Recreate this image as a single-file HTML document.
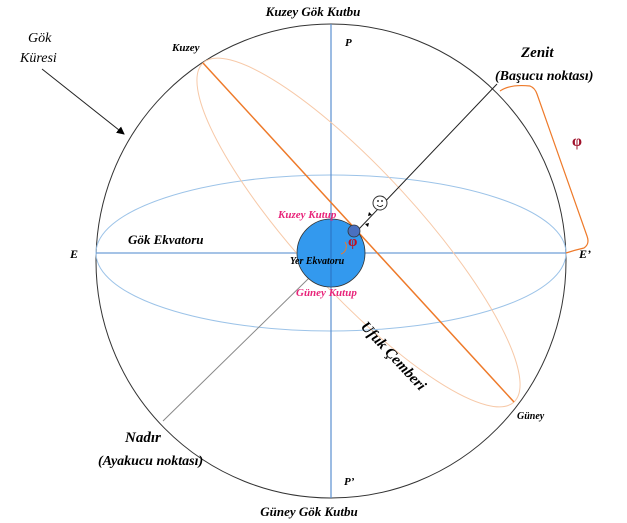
<!DOCTYPE html>
<html><head><meta charset="utf-8"><style>
html,body{margin:0;padding:0;background:#fff;}
svg{display:block;}
text{font-family:"Liberation Serif",serif;font-style:italic;font-weight:bold;}
</style></head><body>
<svg width="627" height="523" viewBox="0 0 627 523" xmlns="http://www.w3.org/2000/svg">
<defs><marker id="ah" markerWidth="8" markerHeight="8" refX="7" refY="4" orient="auto"><path d="M0,0 L8,4 L0,8 z" fill="#000"/></marker></defs>
<!-- celestial sphere -->
<ellipse cx="331" cy="261" rx="235" ry="237" fill="none" stroke="#333" stroke-width="1"/>
<!-- equator ellipse -->
<ellipse cx="331" cy="253" rx="235" ry="78" fill="none" stroke="#9cc3e8" stroke-width="1"/>
<line x1="96" y1="253" x2="566" y2="253" stroke="#6f9fd6" stroke-width="1.2"/>
<line x1="331" y1="24" x2="331" y2="498" stroke="#5a8fd0" stroke-width="1.2"/>
<!-- horizon ellipse -->
<ellipse cx="358.5" cy="232.5" rx="230" ry="60" transform="rotate(47.5 358.5 232.5)" fill="none" stroke="#f7c9a8" stroke-width="1"/>
<line x1="203" y1="63" x2="514" y2="402" stroke="#ee7a2a" stroke-width="1.5"/>
<!-- zenith-nadir line -->
<line x1="497" y1="84" x2="358" y2="230" stroke="#222" stroke-width="1"/>
<line x1="354" y1="234" x2="163" y2="421" stroke="#888" stroke-width="1"/>
<!-- earth -->
<circle cx="331" cy="253" r="34" fill="#3399ee" stroke="#333" stroke-width="0.8"/>
<line x1="331" y1="219" x2="331" y2="287" stroke="#2a6fc0" stroke-width="1"/>
<circle cx="354" cy="231" r="6" fill="#4a70c0" stroke="#333" stroke-width="0.8"/>
<path d="M345,242 a8,8 0 0 1 -4,12" fill="none" stroke="#ee7a2a" stroke-width="1"/>
<!-- observer -->
<circle cx="380" cy="203" r="7" fill="#fff" stroke="#333" stroke-width="1"/>
<circle cx="378" cy="201" r="0.9" fill="#000"/><circle cx="382" cy="201" r="0.9" fill="#000"/>
<path d="M377,205 q3,3 6,0" fill="none" stroke="#000" stroke-width="0.8"/>
<path d="M365,224 l4,-1 -1,4z M372,215 l-4,1 1,-4z" fill="#000"/>
<!-- phi bracket -->
<path d="M500,91 Q510,84 530,86 Q535,88 537,94 L587,236 Q590,244 584,248 Q575,250 566,253" fill="none" stroke="#ee7a2a" stroke-width="1.2"/>
<!-- arrow Gök Küresi -->
<line x1="42" y1="69" x2="124" y2="134" stroke="#222" stroke-width="1" marker-end="url(#ah)"/>
<!-- labels -->
<text x="313" y="16" font-size="13" text-anchor="middle" style="font-size:13px">Kuzey Gök Kutbu</text>
<text x="345" y="46" font-size="11">P</text>
<text x="172" y="51" font-size="11">Kuzey</text>
<text x="28" y="42" font-size="14" font-weight="normal" style="font-weight:normal">Gök</text>
<text x="20" y="62" font-size="14" style="font-weight:normal">Küresi</text>
<text x="521" y="57" font-size="15">Zenit</text>
<text x="495" y="80" font-size="14">(Başucu noktası)</text>
<text x="572" y="146" font-size="16" fill="#a0102a" style="font-style:normal">φ</text>
<text x="70" y="258" font-size="12">E</text>
<text x="579" y="258" font-size="12">E’</text>
<text x="128" y="244" font-size="13">Gök Ekvatoru</text>
<text x="278" y="218" font-size="11" fill="#e8247a">Kuzey Kutup</text>
<text x="290" y="264" font-size="10">Yer Ekvatoru</text>
<text x="296" y="296" font-size="11" fill="#e8247a">Güney Kutup</text>
<text x="348" y="246" font-size="15" fill="#c01020" style="font-style:normal">φ</text>
<text x="0" y="0" font-size="15" transform="translate(360,327) rotate(47)">Ufuk Çemberi</text>
<text x="517" y="419" font-size="10">Güney</text>
<text x="125" y="442" font-size="15">Nadır</text>
<text x="98" y="465" font-size="14">(Ayakucu noktası)</text>
<text x="344" y="485" font-size="11">P’</text>
<text x="309" y="516" font-size="13" text-anchor="middle">Güney Gök Kutbu</text>
</svg>
</body></html>
